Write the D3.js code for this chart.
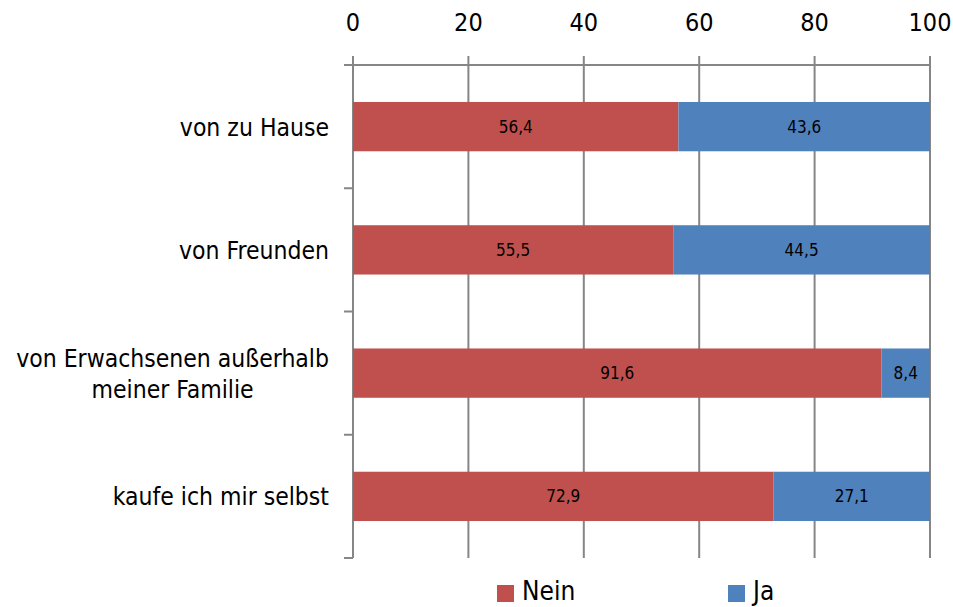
<!DOCTYPE html>
<html>
<head>
<meta charset="utf-8">
<script src="https://cdn.jsdelivr.net/npm/d3@7"></script>
<style>
  body { margin: 0; background: #fff; }
  svg text { font-family: "DejaVu Sans Condensed", "DejaVu Sans", sans-serif; }
</style>
</head>
<body>
<div id="chart"></div>
<script>
const categories = ["von zu Hause", "von Freunden", "von Erwachsenen außerhalb|meiner Familie", "kaufe ich mir selbst"];
const nein = [56.4, 55.5, 91.6, 72.9];
const ja = [43.6, 44.5, 8.4, 27.1];
const seriesNames = ["Nein", "Ja"];
const colors = ["#C0504D", "#4F81BD"];
const xTicks = [0, 20, 40, 60, 80, 100];

const W = 953, H = 607;
const margin = { top: 65, right: 23, bottom: 49, left: 353 };
const width = W - margin.left - margin.right;
const height = H - margin.top - margin.bottom;

const svg = d3.select("#chart").append("svg")
    .attr("width", W)
    .attr("height", H);

const g = svg.append("g")
    .attr("transform", `translate(${margin.left},${margin.top})`);

const x = d3.scaleLinear().domain([0, 100]).range([0, width]);
const y = d3.scaleBand().domain(categories).range([0, height]).paddingInner(0.6).paddingOuter(0.3);
const yOuter = d3.scaleBand().domain(categories).range([0, height]);

const axisColor = "#868686";

// gridlines (with small ticks above the axis)
g.selectAll(".grid")
    .data(xTicks)
    .enter().append("line")
    .attr("x1", d => x(d)).attr("x2", d => x(d))
    .attr("y1", -9).attr("y2", height)
    .attr("stroke", axisColor)
    .attr("stroke-width", 2);

// top axis line
g.append("line")
    .attr("x1", -9).attr("x2", width)
    .attr("y1", 0).attr("y2", 0)
    .attr("stroke", axisColor).attr("stroke-width", 2);

// tick labels
g.selectAll(".xlab")
    .data(xTicks)
    .enter().append("text")
    .attr("x", d => x(d))
    .attr("y", -34)
    .attr("text-anchor", "middle")
    .attr("font-size", 25)
    .attr("fill", "#000")
    .text(d => d);

// left axis with category ticks
g.append("line")
    .attr("x1", 0).attr("x2", 0)
    .attr("y1", 0).attr("y2", height)
    .attr("stroke", axisColor).attr("stroke-width", 2);

const boundaries = categories.map(c => yOuter(c)).concat([height]);
g.selectAll(".ytick")
    .data(boundaries)
    .enter().append("line")
    .attr("x1", -9).attr("x2", 0)
    .attr("y1", d => d).attr("y2", d => d)
    .attr("stroke", axisColor).attr("stroke-width", 2);

// stacked bars
const stackData = categories.map((c, i) => ({ cat: c, Nein: nein[i], Ja: ja[i] }));
const stacked = d3.stack().keys(seriesNames)(stackData);

const layers = g.selectAll(".layer")
    .data(stacked)
    .enter().append("g")
    .attr("fill", (d, i) => colors[i]);

layers.selectAll("rect")
    .data(d => d)
    .enter().append("rect")
    .attr("x", d => x(d[0]))
    .attr("width", d => x(d[1]) - x(d[0]))
    .attr("y", d => y(d.data.cat))
    .attr("height", y.bandwidth());

layers.selectAll(".val")
    .data(d => d)
    .enter().append("text")
    .attr("x", d => (x(d[0]) + x(d[1])) / 2)
    .attr("y", d => y(d.data.cat) + y.bandwidth() / 2 + 6)
    .attr("text-anchor", "middle")
    .attr("font-size", 17)
    .attr("fill", "#000")
    .text(d => d3.format(".1f")(d[1] - d[0]).replace(".", ","));

// category labels: block right-aligned at the axis, lines centred within the block
const labelRight = -24;
g.selectAll(".cat")
    .data(categories)
    .enter().append("text")
    .attr("text-anchor", "middle")
    .attr("font-size", 24.5)
    .attr("fill", "#000")
    .each(function(d) {
        const lines = d.split("|");
        const cy = yOuter(d) + yOuter.bandwidth() / 2;
        const t = d3.select(this);
        const spans = lines.map((ln, j) => t.append("tspan")
            .attr("y", cy + 9 + (j - (lines.length - 1) / 2) * 31)
            .text(ln));
        const maxW = d3.max(spans, s => s.node().getComputedTextLength());
        spans.forEach(s => s.attr("x", labelRight - maxW / 2));
    });

// legend
const legend = svg.append("g");
const legX = [497, 728];
seriesNames.forEach((s, i) => {
    legend.append("rect")
        .attr("x", legX[i]).attr("y", 585)
        .attr("width", 17).attr("height", 17)
        .attr("fill", colors[i]);
    legend.append("text")
        .attr("x", legX[i] + 25).attr("y", 600)
        .attr("font-size", 26)
        .attr("fill", "#000")
        .text(s);
});
</script>
</body>
</html>
